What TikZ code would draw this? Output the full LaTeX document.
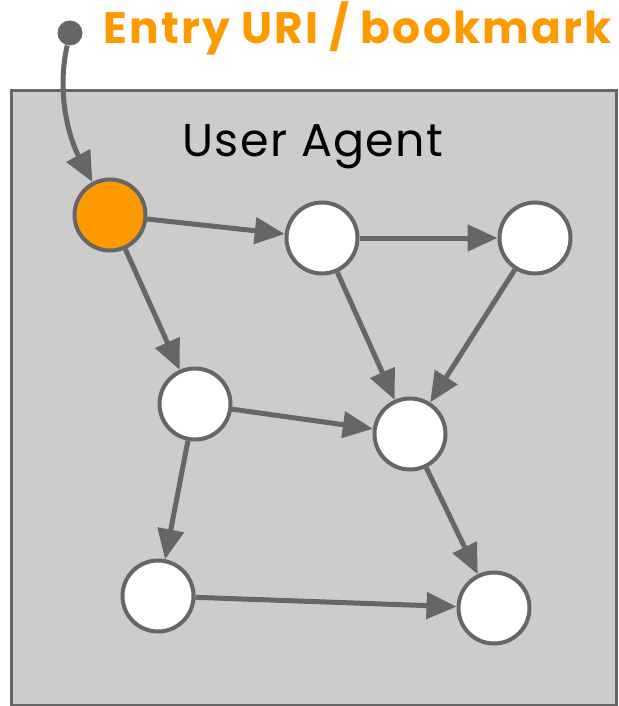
\documentclass[tikz,border=0pt]{standalone}
\usepackage{fontspec}
\setmainfont{Poppins}
\usepackage{tikz}
\usetikzlibrary{arrows.meta, positioning}

\definecolor{linkgray}{HTML}{666666}
\definecolor{agentgray}{HTML}{CCCCCC}
\definecolor{entryorange}{HTML}{FF9900}

\begin{document}
\begin{tikzpicture}[x=0.5pt, y=-0.5pt,
    page/.style={circle, draw=linkgray, line width=2pt, fill=white, minimum size=35.5pt, inner sep=0pt},
    startpage/.style={page, fill=entryorange},
    agent/.style={rectangle, draw=linkgray, fill=agentgray, line width=1.5pt, inner sep=0pt, minimum width=302.5pt, minimum height=307pt},
    line/.style={draw=linkgray, line width=2.5pt, -{Triangle[length=15pt, width=13pt]}}]

    \useasboundingbox (0,0) rectangle (619,706);

    \node [agent] (ua) at (313.5,398) {};
    \node [anchor=base, inner sep=0pt, font=\fontsize{23}{23}\selectfont\addfontfeature{LetterSpace=3}] (title) at (313,156) {User Agent};

    \node [circle, fill=linkgray, inner sep=0pt, minimum size=12.5pt] (dot) at (70,33) {};
    \node [anchor=base west, inner sep=0pt, text=entryorange, font=\bfseries\fontsize{22}{22}\selectfont\addfontfeature{LetterSpace=4.8}] (entrylabel) at (103,44) {Entry URI / bookmark};

    \node [startpage] (entry) at (110,215) {};
    \node [page] (a) at (322,238) {};
    \node [page] (b) at (535,238) {};
    \node [page] (c) at (195,404) {};
    \node [page] (d) at (410,434) {};
    \node [page] (e) at (158,596) {};
    \node [page] (f) at (494,608) {};

    \path [line] (dot) .. controls (56,95) and (70,140) .. (entry);
    \path [line] (entry) -- (a);
    \path [line] (entry) -- (c);
    \path [line] (a) -- (b);
    \path [line] (a) -- (d);
    \path [line] (b) -- (d);
    \path [line] (c) -- (d);
    \path [line] (c) -- (e);
    \path [line] (d) -- (f);
    \path [line] (e) -- (f);

\end{tikzpicture}
\end{document}
